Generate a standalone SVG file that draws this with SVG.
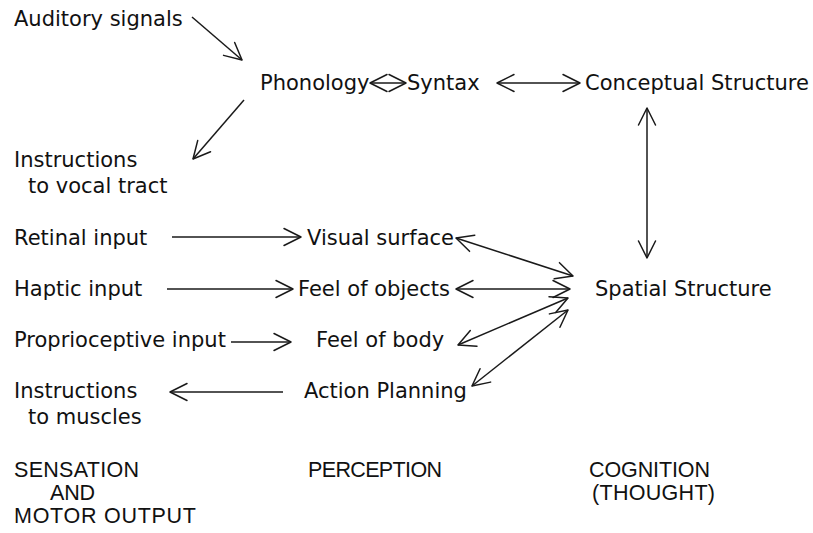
<svg xmlns="http://www.w3.org/2000/svg" width="813" height="533" viewBox="0 0 813 533">
<defs>
<marker id="ah" markerUnits="userSpaceOnUse" markerWidth="40" markerHeight="40" viewBox="-20 -20 40 40" refX="0" refY="0" orient="auto-start-reverse">
<path d="M -17 -8.5 L 0 0 L -17 8.5" fill="none" stroke="#1a1a1a" stroke-width="1.5" stroke-linecap="round" stroke-linejoin="round"/>
</marker>
</defs>
<style>
text{font-family:"DejaVu Sans","Verdana",sans-serif;font-size:21px;fill:#111}
.cap{font-family:"Liberation Sans",Arial,sans-serif;font-size:21.5px}
.c{fill:none;stroke:#1a1a1a;stroke-width:1.5}
.one{marker-end:url(#ah)}
.two{marker-start:url(#ah);marker-end:url(#ah)}
</style>
<rect width="813" height="533" fill="#fff"/>
<g id="auditory"><text x="14" y="26">Auditory signals</text></g>
<g id="phonology"><text x="260" y="90">Phonology</text></g>
<g id="syntax"><text x="407" y="90">Syntax</text></g>
<g id="conceptual"><text x="585" y="90" textLength="224">Conceptual Structure</text></g>
<g id="vocal"><text x="14" y="167">Instructions</text><text x="28" y="193">to vocal tract</text></g>
<g id="retinal"><text x="14" y="245">Retinal input</text></g>
<g id="visual"><text x="307" y="245">Visual surface</text></g>
<g id="haptic"><text x="14" y="296">Haptic input</text></g>
<g id="feelobj"><text x="298" y="296">Feel of objects</text></g>
<g id="spatial"><text x="595" y="296">Spatial Structure</text></g>
<g id="proprio"><text x="14" y="347">Proprioceptive input</text></g>
<g id="feelbody"><text x="316" y="347">Feel of body</text></g>
<g id="muscles"><text x="14" y="398">Instructions</text><text x="28" y="424">to muscles</text></g>
<g id="action"><text x="304" y="398">Action Planning</text></g>
<g id="sensation"><text class="cap" x="14" y="477" textLength="125">SENSATION</text><text class="cap" x="50" y="500" textLength="45">AND</text><text class="cap" x="14" y="523" textLength="182">MOTOR OUTPUT</text></g>
<g id="perception"><text class="cap" x="308" y="477" textLength="134">PERCEPTION</text></g>
<g id="cognition"><text class="cap" x="589" y="477" textLength="121">COGNITION</text><text class="cap" x="592" y="500" textLength="123">(THOUGHT)</text></g>
<g id="connectors">
<line class="c one" x1="192" y1="17" x2="242" y2="60"/>
<line class="c one" x1="244" y1="100" x2="193" y2="159"/>
<line class="c two" x1="370" y1="83" x2="406" y2="83"/>
<line class="c two" x1="497" y1="83" x2="580" y2="83"/>
<line class="c two" x1="647" y1="108" x2="647" y2="258"/>
<line class="c one" x1="172" y1="237" x2="301" y2="237"/>
<line class="c one" x1="167" y1="289" x2="293" y2="289"/>
<line class="c one" x1="231" y1="342" x2="291" y2="342"/>
<line class="c one" x1="283" y1="392" x2="170" y2="392"/>
<line class="c two" x1="456" y1="238" x2="573" y2="276"/>
<line class="c two" x1="456" y1="289" x2="570" y2="289"/>
<line class="c two" x1="458" y1="345" x2="568" y2="298"/>
<line class="c two" x1="472" y1="386" x2="568" y2="310"/>
</g>
</svg>
